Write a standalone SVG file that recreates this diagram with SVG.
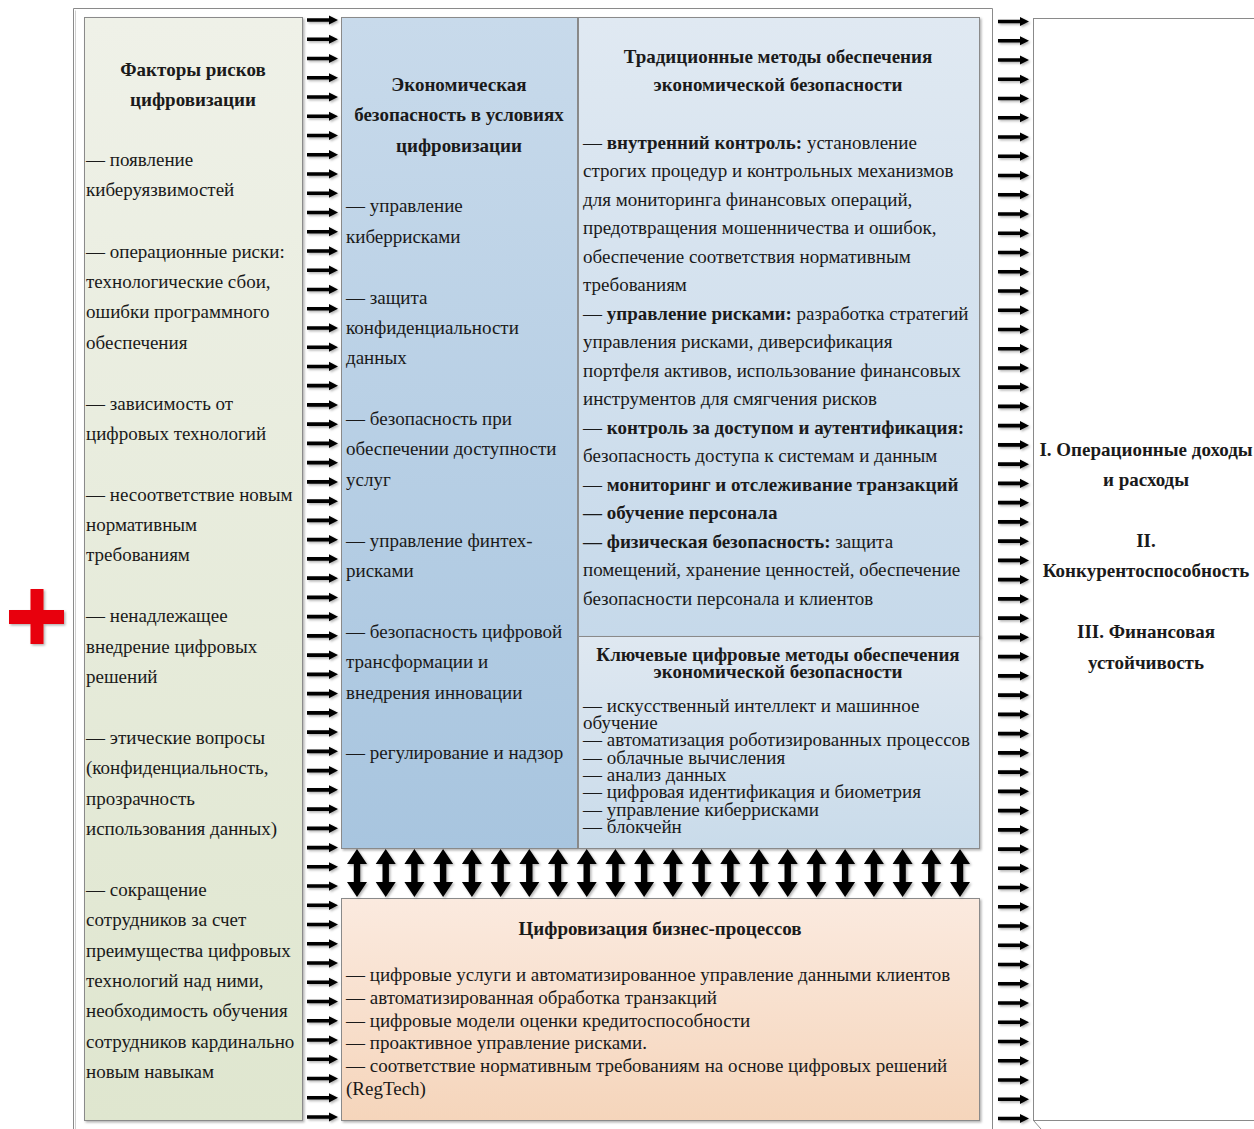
<svg xmlns="http://www.w3.org/2000/svg" xmlns:xlink="http://www.w3.org/1999/xlink" width="1254" height="1129" viewBox="0 0 1254 1129">
<defs>
<style>
.t{font-family:"Liberation Serif","Times New Roman",serif;font-size:19px;fill:#1a1a1a}
.b{font-weight:bold}
.c{text-anchor:middle}
.box{stroke:#8a8a8a;stroke-width:1}
.arr{fill:#000}
</style>
<linearGradient id="gL" x1="0" y1="0" x2="0" y2="1"><stop offset="0" stop-color="#eff1e8"/><stop offset="1" stop-color="#dfe6cf"/></linearGradient>
<linearGradient id="gM" x1="0" y1="0" x2="0" y2="1"><stop offset="0" stop-color="#c8daeb"/><stop offset="1" stop-color="#a8c5df"/></linearGradient>
<linearGradient id="gR" x1="0" y1="0" x2="0" y2="1"><stop offset="0" stop-color="#e0e9f2"/><stop offset="1" stop-color="#c6d9ea"/></linearGradient>
<linearGradient id="gR2" x1="0" y1="0" x2="0" y2="1"><stop offset="0" stop-color="#dfe8f1"/><stop offset="1" stop-color="#c9dbea"/></linearGradient>
<linearGradient id="gB" x1="0" y1="0" x2="0" y2="1"><stop offset="0" stop-color="#fbeadf"/><stop offset="1" stop-color="#f5d5bb"/></linearGradient>
<filter id="sh" x="-10%" y="-10%" width="130%" height="130%"><feDropShadow dx="1.5" dy="1.5" stdDeviation="1" flood-color="#000" flood-opacity="0.3"/></filter>
<path id="ra" class="arr" d="M0,-1.8 H22 V-4.6 L31,0 L22,4.6 V1.8 H0 Z"/>
<path id="da" class="arr" d="M0,0 L10,15 H3.2 V33 H10 L0,48 L-10,33 H-3.2 V15 H-10 Z"/>
</defs>
<rect width="1254" height="1129" fill="#fff"/>

<g id="frame" fill="none">
<path d="M73.5,1129 V8.5 H992.5 V1129" stroke="#8a8a8a"/>
<path d="M75.5,1129 V10.5" stroke="#d0d0d0"/>
</g>

<g id="cross" filter="url(#sh)">
<rect x="9" y="610" width="55" height="14" fill="#e8000b"/>
<rect x="30.5" y="589" width="13" height="55" fill="#e8000b"/>
</g>

<g id="factors">
<rect class="box" x="84.5" y="17.5" width="218" height="1103" fill="url(#gL)" filter="url(#sh)"/>
<text class="t b c" x="193" y="76">Факторы рисков</text>
<text class="t b c" x="193" y="106">цифровизации</text>
<text class="t" x="86" y="166">— появление</text>
<text class="t" x="86" y="196">киберуязвимостей</text>
<text class="t" x="86" y="258">— операционные риски:</text>
<text class="t" x="86" y="288">технологические сбои,</text>
<text class="t" x="86" y="318">ошибки программного</text>
<text class="t" x="86" y="349">обеспечения</text>
<text class="t" x="86" y="410">— зависимость от</text>
<text class="t" x="86" y="440">цифровых технологий</text>
<text class="t" x="86" y="501">— несоответствие новым</text>
<text class="t" x="86" y="531">нормативным</text>
<text class="t" x="86" y="561">требованиям</text>
<text class="t" x="86" y="622">— ненадлежащее</text>
<text class="t" x="86" y="653">внедрение цифровых</text>
<text class="t" x="86" y="683">решений</text>
<text class="t" x="86" y="744">— этические вопросы</text>
<text class="t" x="86" y="774">(конфиденциальность,</text>
<text class="t" x="86" y="805">прозрачность</text>
<text class="t" x="86" y="835">использования данных)</text>
<text class="t" x="86" y="896">— сокращение</text>
<text class="t" x="86" y="926">сотрудников за счет</text>
<text class="t" x="86" y="957">преимущества цифровых</text>
<text class="t" x="86" y="987">технологий над ними,</text>
<text class="t" x="86" y="1017">необходимость обучения</text>
<text class="t" x="86" y="1048">сотрудников кардинально</text>
<text class="t" x="86" y="1078">новым навыкам</text>
</g>

<g id="econsec">
<rect class="box" x="341.5" y="17.5" width="236" height="831" fill="url(#gM)" filter="url(#sh)"/>
<text class="t b c" x="459" y="91">Экономическая</text>
<text class="t b c" x="459" y="121">безопасность в условиях</text>
<text class="t b c" x="459" y="152">цифровизации</text>
<text class="t" x="346" y="212">— управление</text>
<text class="t" x="346" y="243">киберрисками</text>
<text class="t" x="346" y="304">— защита</text>
<text class="t" x="346" y="334">конфиденциальности</text>
<text class="t" x="346" y="364">данных</text>
<text class="t" x="346" y="425">— безопасность при</text>
<text class="t" x="346" y="455">обеспечении доступности</text>
<text class="t" x="346" y="486">услуг</text>
<text class="t" x="346" y="547">— управление финтех-</text>
<text class="t" x="346" y="577">рисками</text>
<text class="t" x="346" y="638">— безопасность цифровой</text>
<text class="t" x="346" y="668">трансформации и</text>
<text class="t" x="346" y="699">внедрения инновации</text>
<text class="t" x="346" y="759">— регулирование и надзор</text>
</g>

<g id="traditional">
<rect class="box" x="578.5" y="17.5" width="401" height="619" fill="url(#gR)" filter="url(#sh)"/>
<text class="t b c" x="778" y="63">Традиционные методы обеспечения</text>
<text class="t b c" x="778" y="91">экономической безопасности</text>
<text class="t" x="583" y="149">— <tspan class="b">внутренний контроль:</tspan> установление</text>
<text class="t" x="583" y="177">строгих процедур и контрольных механизмов</text>
<text class="t" x="583" y="206">для мониторинга финансовых операций,</text>
<text class="t" x="583" y="234">предотвращения мошенничества и ошибок,</text>
<text class="t" x="583" y="263">обеспечение соответствия нормативным</text>
<text class="t" x="583" y="291">требованиям</text>
<text class="t" x="583" y="320">— <tspan class="b">управление рисками:</tspan> разработка стратегий</text>
<text class="t" x="583" y="348">управления рисками, диверсификация</text>
<text class="t" x="583" y="377">портфеля активов, использование финансовых</text>
<text class="t" x="583" y="405">инструментов для смягчения рисков</text>
<text class="t" x="583" y="434">— <tspan class="b">контроль за доступом и аутентификация:</tspan></text>
<text class="t" x="583" y="462">безопасность доступа к системам и данным</text>
<text class="t" x="583" y="491">— <tspan class="b">мониторинг и отслеживание транзакций</tspan></text>
<text class="t b" x="583" y="519">— обучение персонала</text>
<text class="t" x="583" y="548"><tspan class="b">— физическая безопасность:</tspan> защита</text>
<text class="t" x="583" y="576">помещений, хранение ценностей, обеспечение</text>
<text class="t" x="583" y="605">безопасности персонала и клиентов</text>
</g>

<g id="digital">
<rect class="box" x="578.5" y="636.5" width="401" height="212" fill="url(#gR2)" filter="url(#sh)"/>
<text class="t b c" x="778" y="661">Ключевые цифровые методы обеспечения</text>
<text class="t b c" x="778" y="678">экономической безопасности</text>
<text class="t" x="583" y="712">— искусственный интеллект и машинное</text>
<text class="t" x="583" y="729">обучение</text>
<text class="t" x="583" y="746">— автоматизация роботизированных процессов</text>
<text class="t" x="583" y="764">— облачные вычисления</text>
<text class="t" x="583" y="781">— анализ данных</text>
<text class="t" x="583" y="798">— цифровая идентификация и биометрия</text>
<text class="t" x="583" y="816">— управление киберрисками</text>
<text class="t" x="583" y="833">— блокчейн</text>
</g>

<g id="bizproc">
<rect class="box" x="341.5" y="898.5" width="638" height="222" fill="url(#gB)" filter="url(#sh)"/>
<text class="t b c" x="660" y="935">Цифровизация бизнес-процессов</text>
<text class="t" x="346" y="981">— цифровые услуги и автоматизированное управление данными клиентов</text>
<text class="t" x="346" y="1004">— автоматизированная обработка транзакций</text>
<text class="t" x="346" y="1027">— цифровые модели оценки кредитоспособности</text>
<text class="t" x="346" y="1049">— проактивное управление рисками.</text>
<text class="t" x="346" y="1072">— соответствие нормативным требованиям на основе цифровых решений</text>
<text class="t" x="346" y="1095">(RegTech)</text>
</g>

<g id="outcomes">
<rect x="1033.5" y="18.5" width="240" height="1102" fill="#fff" stroke="#8a8a8a"/>
<path d="M1033.5,1120.5 L1041,1129" stroke="#8a8a8a" fill="none"/>
<text class="t b c" x="1146" y="456">I. Операционные доходы</text>
<text class="t b c" x="1146" y="486">и расходы</text>
<text class="t b c" x="1146" y="547">II.</text>
<text class="t b c" x="1146" y="577">Конкурентоспособность</text>
<text class="t b c" x="1146" y="638">III. Финансовая</text>
<text class="t b c" x="1146" y="669">устойчивость</text>
</g>

<g id="connectors" filter="url(#sh)">
<g id="arrows-left">
<use href="#ra" x="307" y="20"/><use href="#ra" x="307" y="39.25"/><use href="#ra" x="307" y="58.49"/><use href="#ra" x="307" y="77.74"/><use href="#ra" x="307" y="96.98"/><use href="#ra" x="307" y="116.23"/><use href="#ra" x="307" y="135.48"/><use href="#ra" x="307" y="154.72"/><use href="#ra" x="307" y="173.97"/><use href="#ra" x="307" y="193.21"/>
<use href="#ra" x="307" y="212.46"/><use href="#ra" x="307" y="231.71"/><use href="#ra" x="307" y="250.95"/><use href="#ra" x="307" y="270.2"/><use href="#ra" x="307" y="289.44"/><use href="#ra" x="307" y="308.69"/><use href="#ra" x="307" y="327.94"/><use href="#ra" x="307" y="347.18"/><use href="#ra" x="307" y="366.43"/><use href="#ra" x="307" y="385.67"/>
<use href="#ra" x="307" y="404.92"/><use href="#ra" x="307" y="424.17"/><use href="#ra" x="307" y="443.41"/><use href="#ra" x="307" y="462.66"/><use href="#ra" x="307" y="481.9"/><use href="#ra" x="307" y="501.15"/><use href="#ra" x="307" y="520.4"/><use href="#ra" x="307" y="539.64"/><use href="#ra" x="307" y="558.89"/><use href="#ra" x="307" y="578.13"/>
<use href="#ra" x="307" y="597.38"/><use href="#ra" x="307" y="616.63"/><use href="#ra" x="307" y="635.87"/><use href="#ra" x="307" y="655.12"/><use href="#ra" x="307" y="674.36"/><use href="#ra" x="307" y="693.61"/><use href="#ra" x="307" y="712.86"/><use href="#ra" x="307" y="732.1"/><use href="#ra" x="307" y="751.35"/><use href="#ra" x="307" y="770.59"/>
<use href="#ra" x="307" y="789.84"/><use href="#ra" x="307" y="809.09"/><use href="#ra" x="307" y="828.33"/><use href="#ra" x="307" y="847.58"/><use href="#ra" x="307" y="866.82"/><use href="#ra" x="307" y="886.07"/><use href="#ra" x="307" y="905.32"/><use href="#ra" x="307" y="924.56"/><use href="#ra" x="307" y="943.81"/><use href="#ra" x="307" y="963.05"/>
<use href="#ra" x="307" y="982.3"/><use href="#ra" x="307" y="1001.55"/><use href="#ra" x="307" y="1020.79"/><use href="#ra" x="307" y="1040.04"/><use href="#ra" x="307" y="1059.28"/><use href="#ra" x="307" y="1078.53"/><use href="#ra" x="307" y="1097.78"/><use href="#ra" x="307" y="1117"/>
</g>
<g id="arrows-right">
<use href="#ra" x="998" y="21.5"/><use href="#ra" x="998" y="40.75"/><use href="#ra" x="998" y="59.99"/><use href="#ra" x="998" y="79.24"/><use href="#ra" x="998" y="98.48"/><use href="#ra" x="998" y="117.73"/><use href="#ra" x="998" y="136.98"/><use href="#ra" x="998" y="156.22"/><use href="#ra" x="998" y="175.47"/><use href="#ra" x="998" y="194.71"/>
<use href="#ra" x="998" y="213.96"/><use href="#ra" x="998" y="233.21"/><use href="#ra" x="998" y="252.45"/><use href="#ra" x="998" y="271.7"/><use href="#ra" x="998" y="290.94"/><use href="#ra" x="998" y="310.19"/><use href="#ra" x="998" y="329.44"/><use href="#ra" x="998" y="348.68"/><use href="#ra" x="998" y="367.93"/><use href="#ra" x="998" y="387.17"/>
<use href="#ra" x="998" y="406.42"/><use href="#ra" x="998" y="425.67"/><use href="#ra" x="998" y="444.91"/><use href="#ra" x="998" y="464.16"/><use href="#ra" x="998" y="483.4"/><use href="#ra" x="998" y="502.65"/><use href="#ra" x="998" y="521.9"/><use href="#ra" x="998" y="541.14"/><use href="#ra" x="998" y="560.39"/><use href="#ra" x="998" y="579.63"/>
<use href="#ra" x="998" y="598.88"/><use href="#ra" x="998" y="618.13"/><use href="#ra" x="998" y="637.37"/><use href="#ra" x="998" y="656.62"/><use href="#ra" x="998" y="675.86"/><use href="#ra" x="998" y="695.11"/><use href="#ra" x="998" y="714.36"/><use href="#ra" x="998" y="733.6"/><use href="#ra" x="998" y="752.85"/><use href="#ra" x="998" y="772.09"/>
<use href="#ra" x="998" y="791.34"/><use href="#ra" x="998" y="810.59"/><use href="#ra" x="998" y="829.83"/><use href="#ra" x="998" y="849.08"/><use href="#ra" x="998" y="868.32"/><use href="#ra" x="998" y="887.57"/><use href="#ra" x="998" y="906.82"/><use href="#ra" x="998" y="926.06"/><use href="#ra" x="998" y="945.31"/><use href="#ra" x="998" y="964.55"/>
<use href="#ra" x="998" y="983.8"/><use href="#ra" x="998" y="1003.05"/><use href="#ra" x="998" y="1022.29"/><use href="#ra" x="998" y="1041.54"/><use href="#ra" x="998" y="1060.78"/><use href="#ra" x="998" y="1080.03"/><use href="#ra" x="998" y="1099.28"/><use href="#ra" x="998" y="1118.5"/>
</g>
<g id="arrows-updown">
<use href="#da" x="357" y="849"/><use href="#da" x="385.7" y="849"/><use href="#da" x="414.4" y="849"/><use href="#da" x="443.1" y="849"/><use href="#da" x="471.9" y="849"/><use href="#da" x="500.6" y="849"/><use href="#da" x="529.3" y="849"/><use href="#da" x="558" y="849"/><use href="#da" x="586.7" y="849"/><use href="#da" x="615.4" y="849"/><use href="#da" x="644.1" y="849"/>
<use href="#da" x="672.9" y="849"/><use href="#da" x="701.6" y="849"/><use href="#da" x="730.3" y="849"/><use href="#da" x="759" y="849"/><use href="#da" x="787.7" y="849"/><use href="#da" x="816.4" y="849"/><use href="#da" x="845.1" y="849"/><use href="#da" x="873.9" y="849"/><use href="#da" x="902.6" y="849"/><use href="#da" x="931.3" y="849"/><use href="#da" x="960" y="849"/>
</g>
</g>
</svg>
